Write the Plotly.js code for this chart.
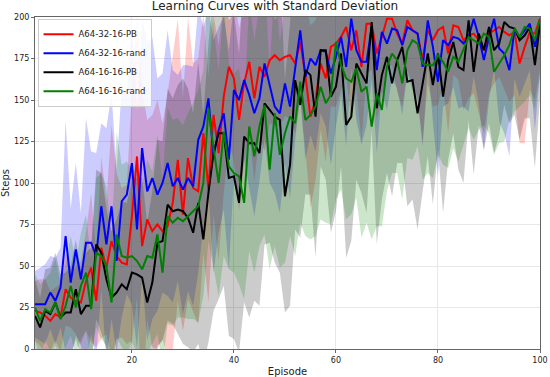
<!DOCTYPE html>
<html>
<head>
<meta charset="utf-8">
<script src="https://cdn.plot.ly/plotly-3.0.1.min.js"></script>
<style>html,body{margin:0;padding:0;background:#fff;}#chart{width:550px;height:377px;}</style>
</head>
<body>
<div id="chart"></div>
<script>
const episodes = Array.from({length: 100}, (_, i) => i + 1);
const seriesNames = ["A64-32-16-PB", "A64-32-16-rand", "A64-16-16-PB", "A64-16-16-rand"];

const redMean = [23,22,20,17,21,19,36,31,29,28, 41,49,29,61,49,65,56,52,51,80,
  116,62,78,71,75,71,74,88,114,81, 115,97,95,130,96,141,118,152,170,163,
  138,160,173,151,170,164,174,177,174,176, 177,172,185,165,140,150,172,163,182,184,
  188,194,180,192,170,196,196,178,188,199, 199,190,184,198,192,190,174,192,186,192,
  194,178,195,194,186,189,190,186,180,190, 192,194,191,189,191,172,182,191,190,199];
const redStd = [18,20,22,18,16,20,22,18,20,25, 30,45,28,55,40,70,50,45,48,75,
  85,95,60,70,75,65,80,88,85,70, 85,75,80,72,68,60,65,58,45,50,
  55,48,42,50,40,45,38,42,40,36, 38,42,35,45,55,48,40,50,36,38,
  32,30,42,35,45,30,28,40,35,30, 28,35,38,30,32,38,50,32,40,45,
  35,48,30,32,42,38,36,44,50,36, 32,30,35,40,38,48,58,35,40,30];

const blueMean = [27,27,27,34,29,37,68,40,60,42, 64,64,56,86,63,86,53,89,93,112,
  72,121,95,103,93,100,112,98,103,96, 103,98,126,134,151,116,132,142,114,156,
  150,162,153,142,151,172,158,146,142,160, 146,168,192,164,175,171,180,179,166,176,
  188,170,199,180,173,173,194,168,191,184, 193,192,183,194,192,190,170,198,182,161,
  186,183,188,187,184,188,199,188,174,188, 199,181,178,168,193,188,192,196,182,196];
const blueStd = [20,22,24,22,26,24,70,45,52,40, 75,55,62,50,70,68,55,70,60,85,
  72,78,90,85,70,66,80,70,62,75, 68,72,80,60,55,70,62,58,66,52,
  60,48,55,62,50,45,58,52,60,48, 55,42,40,50,46,52,38,45,55,42,
  35,48,30,42,50,38,32,50,36,40, 30,35,42,28,36,40,48,25,45,57,
  40,35,30,42,38,45,35,40,55,38, 30,44,48,52,30,36,32,28,50,30];

const blackMean = [20,13,23,21,28,19,22,22,36,21, 26,26,63,58,42,31,34,39,36,46,
  45,43,28,40,64,65,87,83,84,83, 79,70,88,66,94,118,130,130,103,104,
  88,128,124,124,118,148,144,140,138,92, 111,162,147,168,165,140,180,180,152,158,
  178,135,140,172,166,160,197,145,165,176, 160,174,182,161,162,142,160,178,159,178,
  152,174,185,170,168,198,167,190,180,194, 180,184,197,194,193,186,189,194,171,196];
const blackStd = [22,18,25,28,30,26,24,28,30,26, 32,35,45,48,42,40,44,50,52,55,
  58,60,48,55,62,60,70,68,75,80, 78,72,85,75,90,95,100,92,95,98,
  90,100,105,95,92,85,80,88,92,70, 85,90,80,75,72,85,70,78,82,75,
  68,80,75,70,72,78,65,82,75,70, 68,62,70,75,72,70,65,62,72,58,
  70,60,55,62,68,60,62,55,60,58, 62,55,50,58,52,60,50,55,62,45];

const greenMean = [25,17,24,22,28,18,26,38,25,38, 46,24,58,56,50,28,69,56,55,56,
  53,48,56,55,69,46,80,76,79,77, 80,83,86,100,145,121,100,131,110,106,
  104,88,134,116,134,147,108,142,117,130, 140,136,161,138,141,146,158,148,153,185,
  171,163,161,169,155,158,134,154,144,170, 178,174,160,180,186,184,172,171,171,177,
  173,167,176,173,181,188,186,184,190,188, 167,172,177,183,193,188,194,193,186,199];
const greenStd = [20,22,18,24,26,22,25,30,28,32, 35,30,45,50,48,40,62,55,58,52,
  55,50,58,52,60,55,65,62,60,58, 62,65,70,68,80,72,68,75,62,60,
  65,58,75,70,72,78,60,80,68,78, 72,80,85,70,75,78,80,72,78,95,
  75,85,80,78,88,82,68,80,70,75, 72,68,70,65,72,62,70,65,68,60,
  62,58,55,60,58,55,60,52,55,58, 50,48,52,45,50,42,45,40,42,35];

const means = [redMean, blueMean, blackMean, greenMean];
const stds = [redStd, blueStd, blackStd, greenStd];
const lineColors = ["#ff0000", "#0000ff", "#000000", "#008000"];
const fillColors = ["rgba(255,0,0,0.2)", "rgba(0,0,255,0.2)", "rgba(0,0,0,0.2)", "rgba(0,128,0,0.2)"];

const traces = [];
for (let s = 0; s < 4; s++) {
  const up = means[s].map((m, i) => m + stds[s][i]);
  const lo = means[s].map((m, i) => m - stds[s][i]);
  traces.push({x: episodes, y: up, type: "scatter", mode: "lines", line: {width: 0, color: lineColors[s]}, showlegend: false, hoverinfo: "skip"});
  traces.push({x: episodes, y: lo, type: "scatter", mode: "lines", line: {width: 0, color: lineColors[s]}, fill: "tonexty", fillcolor: fillColors[s], showlegend: false, hoverinfo: "skip"});
}
for (let s = 0; s < 4; s++) {
  traces.push({x: episodes, y: means[s], type: "scatter", mode: "lines", name: seriesNames[s], line: {width: 2, color: lineColors[s]}});
}

const layout = {
  width: 550, height: 377,
  margin: {l: 35, r: 10, t: 17, b: 28},
  paper_bgcolor: "#ffffff", plot_bgcolor: "#ffffff",
  font: {family: "DejaVu Sans", size: 8, color: "#222"},
  title: {text: "Learning Curves with Standard Deviation", font: {size: 12, color: "#222"}, x: 0.5, xanchor: "center", y: 0.995, yanchor: "top"},
  xaxis: {range: [1, 100], tickvals: [20, 40, 60, 80, 100], showgrid: true, gridcolor: "#e8e8e8", zeroline: false,
    showline: true, mirror: true, linecolor: "#666", linewidth: 1, ticks: "outside", ticklen: 3, tickcolor: "#666",
    title: {text: "Episode", font: {size: 10}, standoff: 4}},
  yaxis: {range: [0, 200], tickvals: [0, 25, 50, 75, 100, 125, 150, 175, 200], showgrid: true, gridcolor: "#e8e8e8", zeroline: false,
    showline: true, mirror: true, linecolor: "#666", linewidth: 1, ticks: "outside", ticklen: 3, tickcolor: "#666",
    title: {text: "Steps", font: {size: 10}, standoff: 6}},
  legend: {x: 0.005, y: 0.995, xanchor: "left", yanchor: "top", bgcolor: "rgba(255,255,255,0.85)", bordercolor: "#cccccc", borderwidth: 1,
    font: {size: 8.5}, tracegroupgap: 0, itemwidth: 30, traceorder: "normal"},
  showlegend: true
};

Plotly.newPlot("chart", traces, layout, {displayModeBar: false, staticPlot: true});
</script>
</body>
</html>
